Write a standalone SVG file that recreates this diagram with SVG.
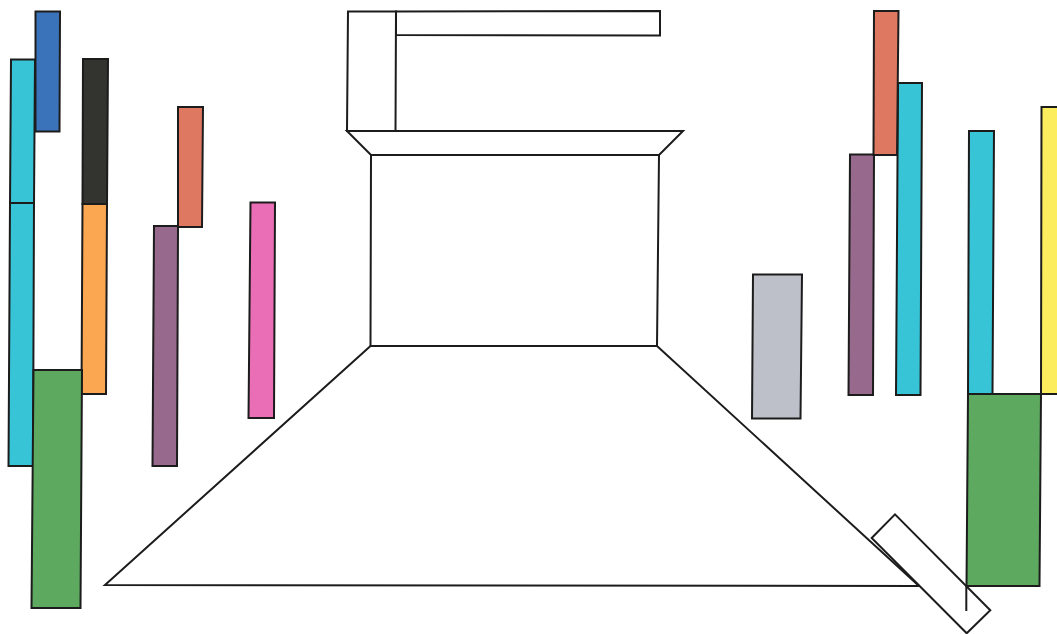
<svg xmlns="http://www.w3.org/2000/svg" width="1057" height="634" viewBox="0 0 1057 634">
<style>
polygon,polyline,line{stroke:#1c1c1c;stroke-width:2;stroke-linejoin:miter}
.o{fill:#fff}
.cy{fill:#37c4d7}.bl{fill:#3b73ba}.bk{fill:#33342f}.or{fill:#fba650}.co{fill:#de7860}.pu{fill:#976a8d}.pi{fill:#ea6eb6}.gr{fill:#5ea960}.gy{fill:#bdc0c9}.ye{fill:#fbed5e}
</style>
<rect width="1057" height="634" fill="#fff" stroke="none"/>
<g id="left-cyan-upper"><polygon class="cy" points="11,59.5 35,59.5 34,203 10,203"/></g>
<g id="left-cyan-lower"><polygon class="cy" points="10,203 34,203 33,466 8.5,466"/></g>
<g id="left-blue"><polygon class="bl" points="35.5,11.5 60,11.5 59.5,131.5 35.5,131.5"/></g>
<g id="left-black"><polygon class="bk" points="83,59 108,59 107,204 82.5,204"/></g>
<g id="left-orange"><polygon class="or" points="82.5,204 107,204 106,394 81.5,394"/></g>
<g id="left-green"><polygon class="gr" points="33.5,370 82,370 80.5,608 31.5,608"/></g>
<g id="left-purple"><polygon class="pu" points="154,226 178,226 177,466 152.5,466"/></g>
<g id="left-coral"><polygon class="co" points="178,107 203,107 202,227 178,227"/></g>
<g id="left-pink"><polygon class="pi" points="250.5,202.5 275,202.5 274,418 248.5,418"/></g>
<g id="top-bar"><polygon class="o" points="396,11.5 660,11 660,35.5 396,35"/></g>
<g id="top-column"><polygon class="o" points="348,11.5 396,11.5 395.5,131 347,131"/></g>
<g id="hood"><polygon class="o" points="347,131 683,131 659,155 371,155"/></g>
<g id="upper-box"><polygon class="o" points="371,155 659,155 657,346 370.5,346"/></g>
<g id="lower-trapezoid"><polygon class="o" points="370.5,346 657,346 919,586 105,585"/></g>
<g id="right-grey"><polygon class="gy" points="753,274.5 802,274.5 800.5,418.5 752,418.5"/></g>
<g id="right-purple"><polygon class="pu" points="850,154.5 874,154.5 873,395 848.5,395"/></g>
<g id="right-cyan-a"><polygon class="cy" points="898,83 922,83 920.5,395 896,395"/></g>
<g id="right-coral"><polygon class="co" points="874,11 898.5,11 897,155 873.5,155"/></g>
<g id="right-cyan-b"><polygon class="cy" points="969,131 994,131 992.5,394 968,394"/></g>
<g id="right-yellow"><polygon class="ye" points="1041.5,107 1058,107 1058,394 1041,394"/></g>
<g id="right-green"><polygon class="gr" points="968,394 1041,394 1039.5,586 966.5,586"/></g>
<g id="tilted-box"><polygon class="o" points="871.7,538 895,514.3 990.3,610.3 966.7,633.3"/></g>
<g id="connectors"><line x1="966.3" y1="586" x2="966.3" y2="611"/></g>
</svg>
